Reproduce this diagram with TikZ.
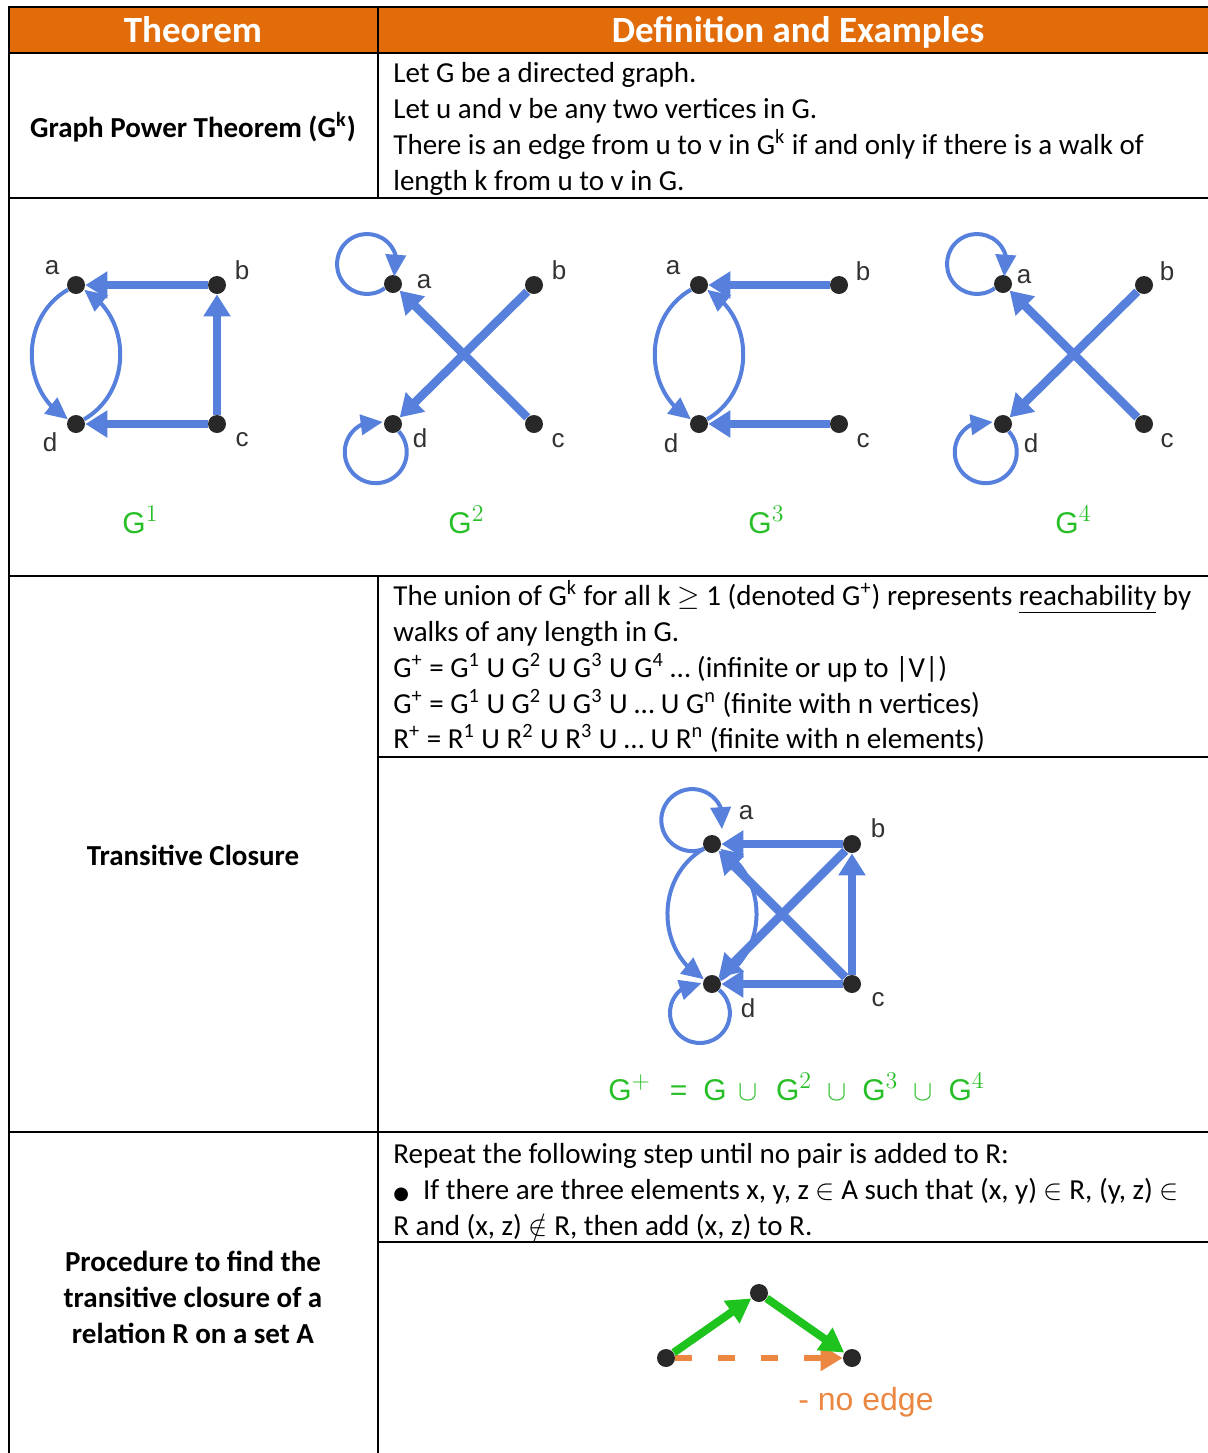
\documentclass[tikz,border=0pt]{standalone}
\usepackage[no-math]{fontspec}
\setmainfont{Carlito}
\newfontfamily\arialfont{Liberation Sans}
\newfontfamily\symbfont{DejaVu Sans}
\usepackage{xcolor}
\definecolor{headorange}{RGB}{227,108,10}
\definecolor{edgeblue}{RGB}{86,128,220}
\definecolor{labelgreen}{RGB}{40,190,40}
\definecolor{walkgreen}{RGB}{30,195,30}
\definecolor{noedgeorange}{RGB}{235,135,65}
\definecolor{dotgray}{RGB}{40,40,40}
\definecolor{namegray}{RGB}{50,50,50}
\usetikzlibrary{arrows.meta, bending, calc}
\newcommand{\gpow}[1]{G\raisebox{6pt}{\fontsize{12}{12}\selectfont$#1$}}

\begin{document}
\begin{tikzpicture}[x=0.5pt, y=0.5pt,
        vtx/.style={circle, fill=dotgray, inner sep=0pt, minimum size=9pt},
        vname/.style={font=\arialfont\fontsize{13}{13}\selectfont, text=namegray, inner sep=0pt},
        glabel/.style={font=\arialfont\fontsize{15}{15}\selectfont, text=labelgreen, inner sep=0pt},
        body/.style={font=\fontsize{14.5}{18}\selectfont, anchor=base west, inner sep=0pt},
        headtxt/.style={font=\bfseries\fontsize{18.5}{18.5}\selectfont, text=white, anchor=base, inner sep=0pt},
        thmtxt/.style={font=\bfseries\fontsize{14.5}{18}\selectfont, anchor=base, inner sep=0pt},
        rule/.style={line width=1pt},
        bigedge/.style={draw=edgeblue, line width=4.25pt, -{Triangle[length=11pt,width=13pt]}},
        bendedge/.style={draw=edgeblue, line width=2pt, bend right=60, looseness=1.1, -{Triangle[length=11pt,width=10pt,flex]}},
        loopedge/.style={draw=edgeblue, line width=2pt, -{Triangle[length=11pt,width=10pt,flex]}},
        walk/.style={draw=walkgreen, line width=4pt, -{Triangle[length=12pt,width=13pt]}},
        noedge/.style={draw=noedgeorange, line width=3pt, dash pattern=on 8.5pt off 13pt, -{Triangle[length=11pt,width=12.5pt]}}]

    \useasboundingbox (0,0) rectangle (1208,-1453);

    % Tabla
    \fill[headorange] (9,-7) rectangle (1208,-53);
    \draw[rule] (1208,-7) -- (9,-7) -- (9,-1453);
    \draw[rule] (9,-53) -- (1208,-53);
    \draw[rule] (378,-7) -- (378,-198);
    \draw[rule] (9,-198) -- (1208,-198);
    \draw[rule] (9,-576) -- (1208,-576);
    \draw[rule] (378,-576) -- (378,-1453);
    \draw[rule] (378,-757) -- (1208,-757);
    \draw[rule] (9,-1132) -- (1208,-1132);
    \draw[rule] (378,-1242) -- (1208,-1242);

    % Encabezado
    \node[headtxt] (headthm) at (193,-42) {Theorem};
    \node[headtxt] (headdef) at (798,-42) {Definition and Examples};

    % Fila 1
    \node[thmtxt] (thmpower) at (193,-137) {Graph Power Theorem (G\textsuperscript{k})};
    \node[body] (def1) at (393,-82) {Let G be a directed graph.};
    \node[body] (def2) at (393,-118) {Let u and v be any two vertices in G.};
    \node[body] (def3) at (393,-154) {There is an edge from u to v in G\textsuperscript{k} if and only if there is a walk of};
    \node[body] (def4) at (393,-190) {length k from u to v in G.};

    % G^1
    \node[vtx] (g1a) at (76,-285) {};
    \node[vtx] (g1b) at (217,-285) {};
    \node[vtx] (g1d) at (76,-424) {};
    \node[vtx] (g1c) at (217,-424) {};
    \node[vname] (g1na) at (52,-268) {a};
    \node[vname] (g1nb) at (242,-270) {b};
    \node[vname] (g1nd) at (50,-442) {d};
    \node[vname] (g1nc) at (242,-440) {c};
    \draw[bigedge] (g1b) -- (g1a);
    \draw[bigedge] (g1c) -- (g1b);
    \draw[bigedge] (g1c) -- (g1d);
    \draw[bendedge] (g1a) to (g1d);
    \draw[bendedge] (g1d) to (g1a);
    \node[glabel] (g1lbl) at (140,-520) {\gpow{1}};

    % G^2
    \node[vtx] (g2a) at (393,-284) {};
    \node[vtx] (g2b) at (534,-285) {};
    \node[vtx] (g2d) at (393,-424) {};
    \node[vtx] (g2c) at (534,-424) {};
    \node[vname] (g2na) at (424,-282) {a};
    \node[vname] (g2nb) at (559,-270) {b};
    \node[vname] (g2nd) at (420,-438) {d};
    \node[vname] (g2nc) at (558,-441) {c};
    \draw[bigedge] (g2c) -- (g2a);
    \draw[bigedge] (g2b) -- (g2d);
    \draw[loopedge] (g2a.207) arc[start angle=-54, delta angle=-331, radius=30];
    \draw[loopedge] (g2d.-52) arc[start angle=42, delta angle=-325, radius=31];
    \node[glabel] (g2lbl) at (466,-520) {\gpow{2}};

    % G^3
    \node[vtx] (g3a) at (699,-285) {};
    \node[vtx] (g3b) at (839,-285) {};
    \node[vtx] (g3d) at (699,-424) {};
    \node[vtx] (g3c) at (839,-424) {};
    \node[vname] (g3na) at (673,-268) {a};
    \node[vname] (g3nb) at (863,-271) {b};
    \node[vname] (g3nd) at (671,-443) {d};
    \node[vname] (g3nc) at (863,-441) {c};
    \draw[bigedge] (g3b) -- (g3a);
    \draw[bigedge] (g3c) -- (g3d);
    \draw[bendedge] (g3a) to (g3d);
    \draw[bendedge] (g3d) to (g3a);
    \node[glabel] (g3lbl) at (766,-520) {\gpow{3}};

    % G^4
    \node[vtx] (g4a) at (1003,-284) {};
    \node[vtx] (g4b) at (1144,-285) {};
    \node[vtx] (g4d) at (1003,-424) {};
    \node[vtx] (g4c) at (1144,-424) {};
    \node[vname] (g4na) at (1024,-277) {a};
    \node[vname] (g4nb) at (1167,-271) {b};
    \node[vname] (g4nd) at (1031,-443) {d};
    \node[vname] (g4nc) at (1167,-441) {c};
    \draw[bigedge] (g4c) -- (g4a);
    \draw[bigedge] (g4b) -- (g4d);
    \draw[loopedge] (g4a.207) arc[start angle=-54, delta angle=-331, radius=30];
    \draw[loopedge] (g4d.-52) arc[start angle=42, delta angle=-325, radius=31];
    \node[glabel] (g4lbl) at (1073,-520) {\gpow{4}};

    % Fila 3
    \node[thmtxt] (thmclosure) at (193,-865) {Transitive Closure};
    \node[body] (uni1) at (393,-605) {The union of G\textsuperscript{k} for all k $\geq$ 1 (denoted G\textsuperscript{+}) represents \underline{reachability} by};
    \node[body] (uni2) at (393,-641) {walks of any length in G.};
    \node[body] (uni3) at (393,-677) {G\textsuperscript{+} = G\textsuperscript{1} U G\textsuperscript{2} U G\textsuperscript{3} U G\textsuperscript{4} … (infinite or up to |V|)};
    \node[body] (uni4) at (393,-713) {G\textsuperscript{+} = G\textsuperscript{1} U G\textsuperscript{2} U G\textsuperscript{3} U … U G\textsuperscript{n} (finite with n vertices)};
    \node[body] (uni5) at (393,-748) {R\textsuperscript{+} = R\textsuperscript{1} U R\textsuperscript{2} U R\textsuperscript{3} U … U R\textsuperscript{n} (finite with n elements)};

    % G^+
    \node[vtx] (tca) at (712,-844) {};
    \node[vtx] (tcb) at (852,-844) {};
    \node[vtx] (tcd) at (712,-984) {};
    \node[vtx] (tcc) at (852,-984) {};
    \node[vname] (tcna) at (746,-813) {a};
    \node[vname] (tcnb) at (878,-828) {b};
    \node[vname] (tcnd) at (748,-1008) {d};
    \node[vname] (tcnc) at (878,-1000) {c};
    \draw[bigedge] (tcb) -- (tca);
    \draw[bigedge] (tcc) -- (tca);
    \draw[bigedge] (tcb) -- (tcd);
    \draw[bigedge] (tcc) -- (tcd);
    \draw[bigedge] (tcc) -- (tcb);
    \draw[bendedge] (tca) to (tcd);
    \draw[bendedge] (tcd) to (tca);
    \draw[loopedge] (tca.211) arc[start angle=-68, delta angle=-309, radius=31];
    \draw[loopedge] (tcd.-40) arc[start angle=50, delta angle=-323, radius=30];
    \node[glabel] (tclbl) at (796,-1087) {\gpow{+}\hspace{10pt}=\hspace{8pt}G\hspace{6pt}$\cup$\hspace{9pt}\gpow{2}\hspace{8pt}$\cup$\hspace{8pt}\gpow{3}\hspace{8pt}$\cup$\hspace{8pt}\gpow{4}};

    % Fila 4
    \node[thmtxt] (proc1) at (193,-1271) {Procedure to find the};
    \node[thmtxt] (proc2) at (193,-1307) {transitive closure of a};
    \node[thmtxt] (proc3) at (193,-1343) {relation R on a set A};
    \node[body] (rep1) at (393,-1163) {Repeat the following step until no pair is added to R:};
    \node[body] (rep2) at (393,-1199) {{\symbfont\fontsize{9}{9}\selectfont ●}\hspace{7pt}If there are three elements x, y, z $\in$ A such that (x, y) $\in$ R, (y, z) $\in$};
    \node[body] (rep3) at (393,-1235) {R and (x, z) $\notin$ R, then add (x, z) to R.};

    % Camino x-y-z
    \node[vtx] (px) at (666,-1358) {};
    \node[vtx] (py) at (759,-1293) {};
    \node[vtx] (pz) at (852,-1358) {};
    \draw[noedge] (px) -- (pz);
    \draw[walk] (px) -- (py);
    \draw[walk] (py) -- (pz);
    \node[font=\arialfont\fontsize{16}{16}\selectfont, text=noedgeorange, inner sep=0pt] (noedgelbl) at (866,-1402) {- no edge};
\end{tikzpicture}
\end{document}
